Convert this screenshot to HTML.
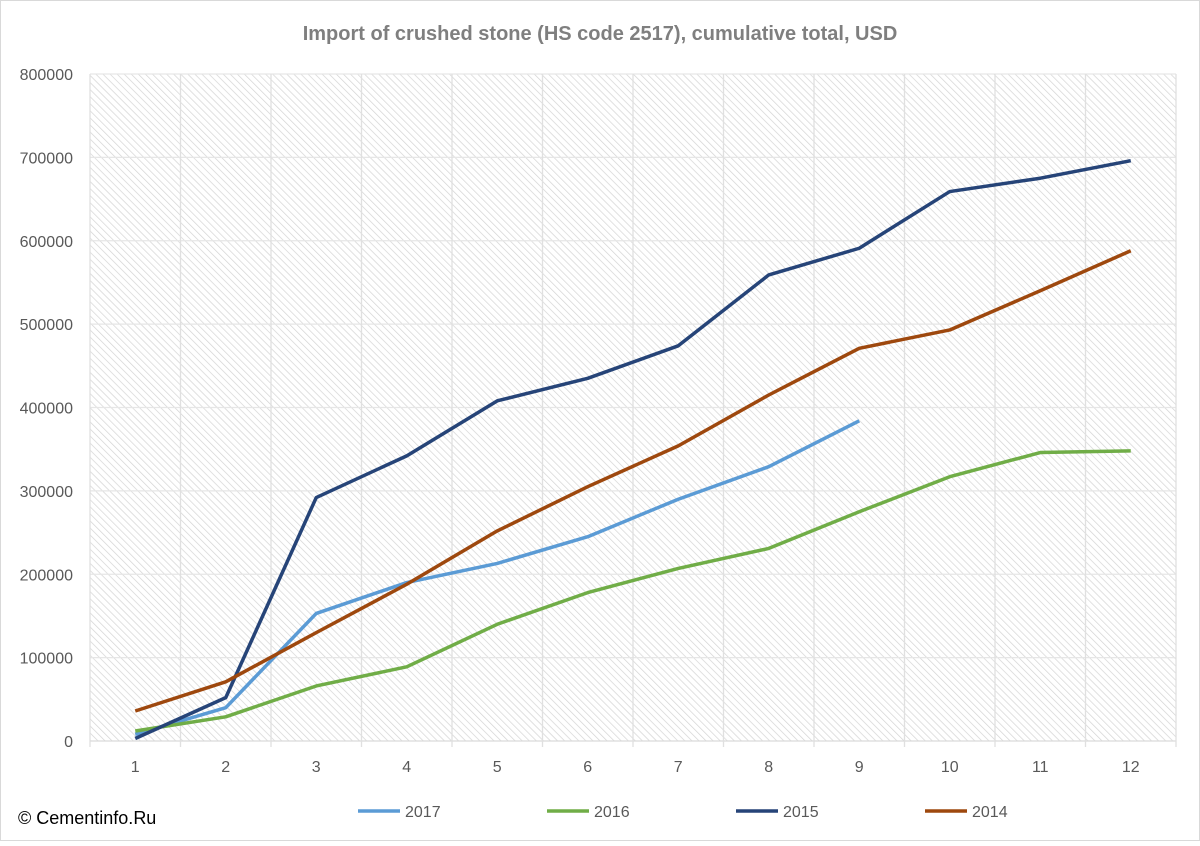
<!DOCTYPE html>
<html><head><meta charset="utf-8"><style>
body{margin:0;background:#fff;font-family:"Liberation Sans",sans-serif}
svg text{font-family:"Liberation Sans",sans-serif}
</style></head><body>
<svg width="1200" height="841" viewBox="0 0 1200 841">
<defs><pattern id="hatch" width="5" height="5" patternUnits="userSpaceOnUse" patternTransform="rotate(-45)">
<rect width="5" height="5" fill="#fff"/><line x1="0" y1="0" x2="0" y2="5" stroke="#d4d4d4" stroke-width="1.4"/></pattern></defs>
<rect x="0.5" y="0.5" width="1199" height="840" fill="#fff" stroke="#d9d9d9"/>
<text x="600" y="40" text-anchor="middle" font-size="20" font-weight="bold" fill="#7f7f7f">Import of crushed stone (HS code 2517), cumulative total, USD</text>
<rect x="90" y="74" width="1086" height="667" fill="url(#hatch)"/>
<g id="grid"></g><g id="axes"></g><g id="series"></g><g id="legend"></g>
<text x="18" y="824" font-size="18" fill="#000">© Cementinfo.Ru</text>
</svg>
<script>
const categories=[1,2,3,4,5,6,7,8,9,10,11,12];
const yTicks=[0,100000,200000,300000,400000,500000,600000,700000,800000];
const s2017=[8000,40000,153000,190000,213000,245000,290000,329000,384000];
const s2016=[12000,29000,66000,89000,140000,178000,207000,231000,275000,317000,346000,348000];
const s2015=[3000,52000,292000,342000,408000,435000,474000,559000,591000,659000,675000,696000];
const s2014=[36000,71000,130000,188000,252000,305000,354000,415000,471000,493000,540000,588000];
const seriesNames=["2017","2016","2015","2014"];
const seriesColors=["#5B9BD5","#70AD47","#264478","#9E480E"];
const seriesData=[s2017,s2016,s2015,s2014];
const NS="http://www.w3.org/2000/svg";
const L=90,R=1176,T=74,B=741,yMax=800000;
const step=(R-L)/categories.length;
const x=i=>L+step*(i+0.5);
const y=v=>B-(v/yMax)*(B-T);
function mk(tag,attrs,parent){const e=document.createElementNS(NS,tag);for(const k in attrs)e.setAttribute(k,attrs[k]);parent.appendChild(e);return e;}
const grid=document.getElementById('grid'),axes=document.getElementById('axes'),ser=document.getElementById('series'),leg=document.getElementById('legend');
yTicks.forEach(t=>{
 const l=mk('line',{x1:L,x2:R,y1:y(t),y2:y(t),stroke:t===0?'#d9d9d9':'#e6e6e6','stroke-width':1.3},grid);
 
 
 const tx=mk('text',{x:73,y:y(t)+6,'text-anchor':'end','font-size':16,fill:'#595959'},axes);
 tx.textContent=t;
 
 
});
for(let i=0;i<=categories.length;i++){
 const l=mk('line',{x1:L+step*i,x2:L+step*i,y1:T,y2:B+6,stroke:'#e0e0e0','stroke-width':1.3},grid);
 
 
}
categories.forEach((c,i)=>{
 const tx=mk('text',{x:x(i),y:772,'text-anchor':'middle','font-size':16,fill:'#595959'},axes);
 tx.textContent=c;
 
 
});
seriesData.forEach((d,si)=>{
 const p=mk('polyline',{points:d.map((v,i)=>x(i)+','+y(v)).join(' '),fill:'none',stroke:seriesColors[si],'stroke-width':3.5,'stroke-linejoin':'round'},ser);
 
 
 const lx=358+si*189;
 const ll=mk('line',{x1:lx,x2:lx+42,y1:811,y2:811,stroke:seriesColors[si],'stroke-width':3.5},leg);
 
 
 const lt=mk('text',{x:lx+47,y:817,'font-size':16,fill:'#595959'},leg);
 lt.textContent=seriesNames[si];
 
 
});
</script>
</body></html>
